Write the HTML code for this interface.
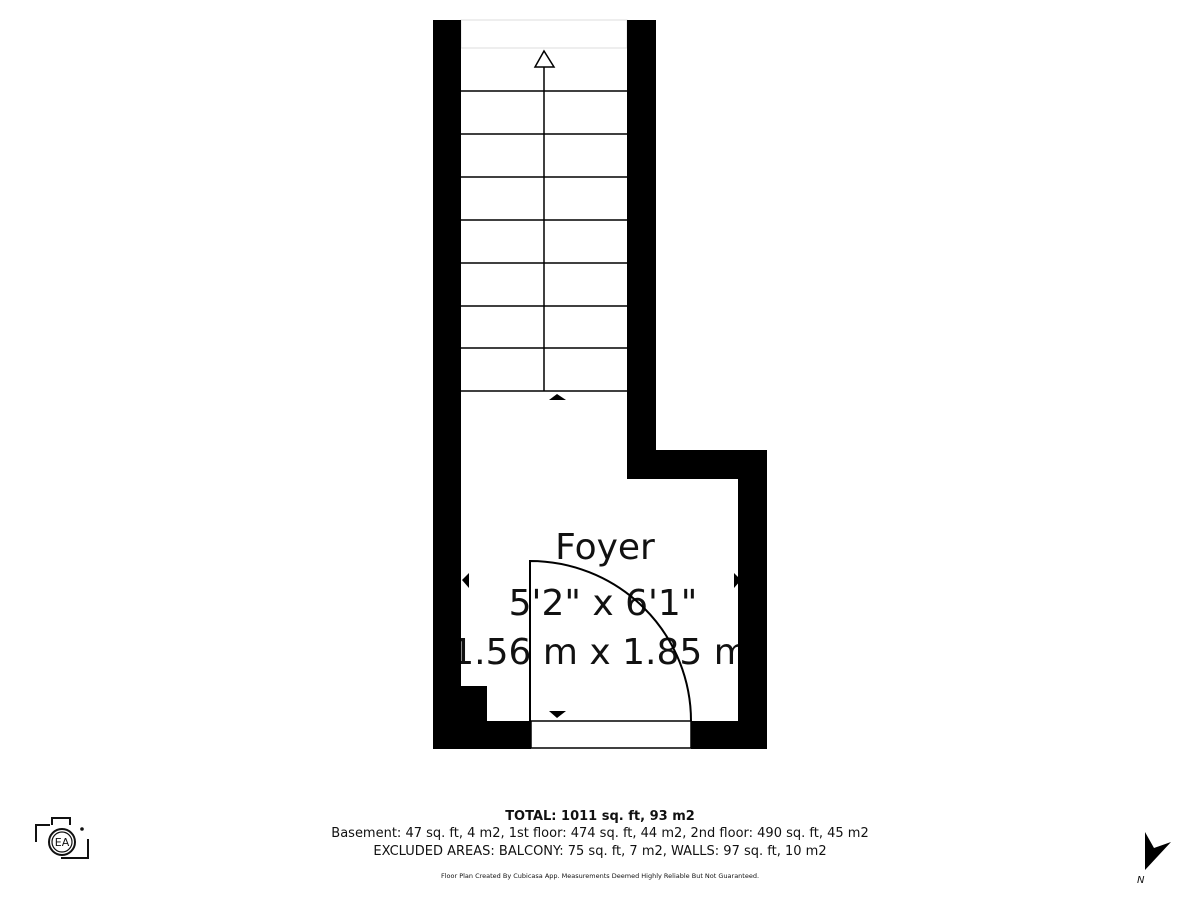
<!DOCTYPE html>
<html><head><meta charset="utf-8"><style>
html,body{margin:0;padding:0;background:#fff;width:1200px;height:900px;overflow:hidden}
svg{display:block}
</style></head><body>
<svg width="1200" height="900" viewBox="0 0 1200 900" xmlns="http://www.w3.org/2000/svg" font-family="DejaVu Sans, Liberation Sans, sans-serif">
<g fill="#111" font-size="36" text-anchor="middle">
<text x="605" y="559">Foyer</text>
<text x="603" y="615">5'2" x 6'1"</text>
<text x="600" y="664">1.56 m x 1.85 m</text>
</g>
<g stroke="#000" stroke-width="1.5">
<line x1="461" y1="91" x2="627" y2="91"/>
<line x1="461" y1="134" x2="627" y2="134"/>
<line x1="461" y1="177" x2="627" y2="177"/>
<line x1="461" y1="220" x2="627" y2="220"/>
<line x1="461" y1="263" x2="627" y2="263"/>
<line x1="461" y1="306" x2="627" y2="306"/>
<line x1="461" y1="348" x2="627" y2="348"/>
<line x1="461" y1="391" x2="627" y2="391"/>
<line x1="544" y1="56" x2="544" y2="391"/>
</g>
<polygon points="544,51 535,67 554,67" fill="#fff" stroke="#000" stroke-width="1.5"/>
<rect x="461" y="20" width="166" height="28" fill="#fff" stroke="#ddd" stroke-width="1"/>
<polygon points="557,394 549,400 566,400" fill="#000"/>
<polygon points="549,711 566,711 557,718" fill="#000"/>
<polygon points="462,580 469,573 469,588" fill="#000"/>
<polygon points="741,580 734,573 734,588" fill="#000"/>
<path d="M530,721 L530,561 A161,160 0 0 1 691,721" fill="none" stroke="#000" stroke-width="2"/>
<g fill="#000">
<rect x="433" y="20" width="28" height="729"/>
<rect x="627" y="20" width="29" height="459"/>
<rect x="627" y="450" width="140" height="29"/>
<rect x="738" y="450" width="29" height="299"/>
<rect x="433" y="721" width="98" height="28"/>
<rect x="691" y="721" width="76" height="28"/>
<rect x="433" y="686" width="54" height="63"/>
</g>
<rect x="531" y="721" width="160" height="27" fill="#fff" stroke="#000" stroke-width="1.5"/>
<g text-anchor="middle" fill="#111">
<text x="600" y="820" font-size="13" font-weight="bold">TOTAL: 1011 sq. ft, 93 m2</text>
<text x="600" y="837" font-size="13">Basement: 47 sq. ft, 4 m2, 1st floor: 474 sq. ft, 44 m2, 2nd floor: 490 sq. ft, 45 m2</text>
<text x="600" y="855" font-size="13">EXCLUDED AREAS: BALCONY: 75 sq. ft, 7 m2, WALLS: 97 sq. ft, 10 m2</text>
<text x="600" y="878" font-size="6.5">Floor Plan Created By Cubicasa App. Measurements Deemed Highly Reliable But Not Guaranteed.</text>
</g>
<g fill="none" stroke="#111" stroke-width="2">
<path d="M36,842 V825 H50"/>
<path d="M52,825 V818 H70 V825"/>
<path d="M88,839 V858 H61"/>
<circle cx="62" cy="842" r="13"/>
<circle cx="62" cy="842" r="10" stroke-width="1.2"/>
</g>
<circle cx="82" cy="829" r="1.8" fill="#111"/>
<text x="62" y="846" font-size="11" text-anchor="middle" fill="#111">EA</text>
<polygon points="1145,832 1154,848 1171,842 1145,870" fill="#000"/>
<text x="1137" y="883" font-size="10" fill="#111" font-style="italic">N</text>
</svg>
</body></html>
